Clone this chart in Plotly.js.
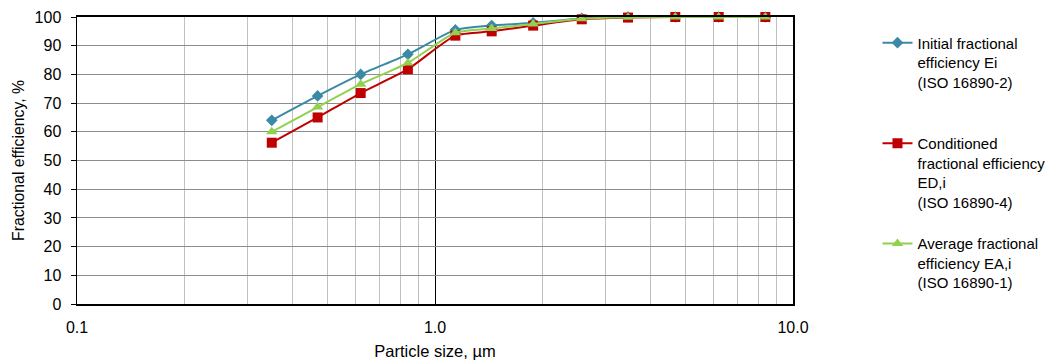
<!DOCTYPE html>
<html>
<head>
<meta charset="utf-8">
<script src="https://cdn.plot.ly/plotly-3.0.1.min.js"></script>
<style>html,body{margin:0;padding:0;background:#fff;}#chart{width:1054px;height:360px;}</style>
</head>
<body>
<div id="chart"></div>
<script>
const particleSize = [0.35, 0.47, 0.62, 0.84, 1.14, 1.44, 1.88, 2.57, 3.46, 4.69, 6.2, 8.37];
const initialEff = [64, 72.5, 80, 87, 95.5, 97, 98, 99.5, 100, 100, 100, 100];
const conditionedEff = [56.2, 65, 73.5, 81.8, 93.5, 95, 97, 99.2, 99.8, 100, 100, 100];
const averageEff = [60, 68.6, 76.6, 84, 94.5, 96, 97.6, 99.4, 99.9, 100, 100, 100];
const seriesNames = [
  'Initial fractional<br>efficiency Ei<br>(ISO 16890-2)',
  'Conditioned<br>fractional efficiency<br>ED,i<br>(ISO 16890-4)',
  'Average fractional<br>efficiency EA,i<br>(ISO 16890-1)'
];
const xTickVals = [0.1, 1, 10];
const xTickText = ['0.1', '1.0', '10.0'];

const FONT = 'Liberation Sans, Arial, sans-serif';
const traces = [
  {x: particleSize, y: initialEff, name: seriesNames[0], legend: 'legend',
   mode: 'lines+markers', line: {color: '#3A8AA6', width: 2, shape: 'spline', smoothing: 0.6},
   marker: {symbol: 'diamond', size: 9, color: '#3A8AA6'}, cliponaxis: false},
  {x: particleSize, y: conditionedEff, name: seriesNames[1], legend: 'legend2',
   mode: 'lines+markers', line: {color: '#C00000', width: 2, shape: 'spline', smoothing: 0.6},
   marker: {symbol: 'square', size: 10, color: '#C00000'}, cliponaxis: false},
  {x: particleSize, y: averageEff, name: seriesNames[2], legend: 'legend3',
   mode: 'lines+markers', line: {color: '#92D050', width: 2, shape: 'spline', smoothing: 0.6},
   marker: {symbol: 'triangle-up', size: 10, color: '#92D050'}, cliponaxis: false}
];

const legendBase = {xanchor: 'left', yanchor: 'top', valign: 'top', bgcolor: 'rgba(0,0,0,0)',
  font: {family: FONT, size: 15, color: '#000'}, itemwidth: 30, tracegroupgap: 0};

const layout = {
  width: 1054, height: 360,
  margin: {l: 77, r: 261, t: 17, b: 56, autoexpand: false},
  paper_bgcolor: '#fff', plot_bgcolor: '#fff',
  font: {family: FONT, size: 16, color: '#000'},
  showlegend: true,
  xaxis: {
    type: 'log', range: [-1, 1],
    tickvals: xTickVals, ticktext: xTickText,
    showgrid: true, gridcolor: '#000', gridwidth: 1,
    minor: {dtick: 'D1', showgrid: true, gridcolor: '#c0c0c0', gridwidth: 1, ticks: ''},
    ticks: '', showline: true, linecolor: '#000', linewidth: 2, mirror: true,
    tickfont: {family: FONT, size: 16, color: '#000'},
    ticklabelstandoff: 8,
    title: {text: 'Particle size, µm', font: {family: FONT, size: 16.5, color: '#000'}, standoff: 10},
    zeroline: false
  },
  yaxis: {
    range: [0, 100], dtick: 10,
    showgrid: true, gridcolor: '#8c8c8c', gridwidth: 1,
    ticks: 'outside', ticklen: 5, tickcolor: '#000',
    showline: true, linecolor: '#000', linewidth: 1.5, mirror: true,
    tickfont: {family: FONT, size: 16, color: '#000'},
    ticklabelstandoff: 6,
    title: {text: 'Fractional efficiency, %', font: {family: FONT, size: 15.8, color: '#000'}, standoff: 6},
    zeroline: false
  },
  legend: Object.assign({}, legendBase, {x: 1.118, y: 0.967}),
  legend2: Object.assign({}, legendBase, {x: 1.118, y: 0.617}),
  legend3: Object.assign({}, legendBase, {x: 1.118, y: 0.267})
};

Plotly.newPlot('chart', traces, layout, {displayModeBar: false, staticPlot: true});
</script>
</body>
</html>
